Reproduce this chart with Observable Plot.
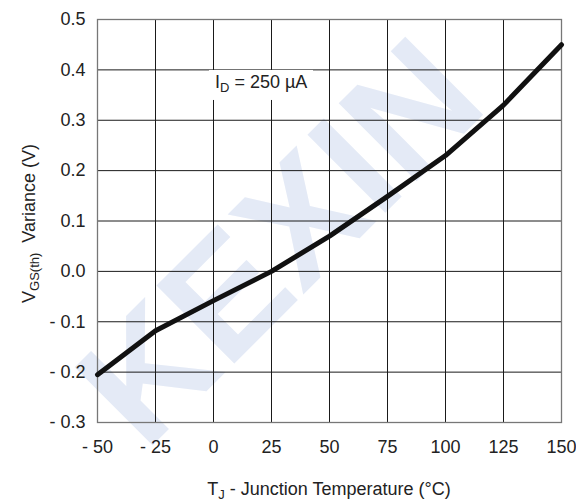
<!DOCTYPE html>
<html>
<head>
<meta charset="utf-8">
<script src="https://cdn.jsdelivr.net/npm/d3@7"></script>
<script src="https://cdn.jsdelivr.net/npm/@observablehq/plot@0.6"></script>
<style>
  body { margin: 0; background: #fff; }
  #chart svg { display: block; }
</style>
</head>
<body>
<div id="chart"></div>
<script>
// Junction temperature (°C) and threshold-voltage variance (V), I_D = 250 µA
const temperature = [-50, -25, 0, 25, 50, 75, 100, 125, 150];
const variance = [-0.205, -0.118, -0.058, 0.0, 0.07, 0.149, 0.23, 0.33, 0.45];

// Axis ticks
const xTicks = [-50, -25, 0, 25, 50, 75, 100, 125, 150];
const yTicks = [-0.3, -0.2, -0.1, 0.0, 0.1, 0.2, 0.3, 0.4, 0.5];

const font = "'Liberation Sans', Arial, Helvetica, sans-serif";
const fs = 18;
const fmtX = d => d < 0 ? "- " + Math.abs(d) : String(d);
const fmtY = d => d < 0 ? "- " + Math.abs(d).toFixed(1) : d.toFixed(1);

const rows = temperature.map((t, i) => ({t, v: variance[i]}));

const plot = Plot.plot({
  width: 576,
  height: 502,
  marginLeft: 97,
  marginRight: 15,
  marginTop: 19,
  marginBottom: 80,
  style: {fontFamily: font, fontSize: fs + "px", color: "#222", background: "transparent"},
  x: {domain: [-50, 150]},
  y: {domain: [-0.3, 0.5]},
  marks: [
    Plot.gridX(xTicks, {stroke: "#1a1a1a", strokeOpacity: 1, strokeWidth: 1}),
    Plot.gridY(yTicks, {stroke: "#1a1a1a", strokeOpacity: 1, strokeWidth: 1}),
    Plot.frame({stroke: "#777", strokeWidth: 1.3}),
    Plot.axisX(xTicks, {tickSize: 0, tickPadding: 18, tickFormat: fmtX, label: null, fontSize: fs}),
    Plot.axisY(yTicks, {tickSize: 0, tickPadding: 12, tickFormat: fmtY, label: null, fontSize: fs}),
    Plot.line(rows, {x: "t", y: "v", stroke: "#111", strokeWidth: 5, strokeLinejoin: "round"})
  ]
});

document.getElementById("chart").appendChild(plot);

const svg = d3.select(plot);
const sx = plot.scale("x"), sy = plot.scale("y");
const [x0, x1] = sx.range;
const [y0, y1] = sy.range;

// Faint watermark behind everything
const wm = svg.insert("g", ":first-child");
wm.append("text")
  .attr("transform", `translate(288,250) rotate(-45)`)
  .attr("text-anchor", "middle")
  .attr("dominant-baseline", "middle")
  .attr("font-family", font)
  .attr("font-weight", "bold")
  .attr("font-size", 160)
  .attr("fill", "#e4eaf6")
  .text("KEXIN");

// Current condition label with white backing
const lx = sx.apply(0), ly = sy.apply(0.375);
svg.append("rect")
  .attr("x", lx - 4).attr("y", ly - 12)
  .attr("width", 104).attr("height", 30)
  .attr("fill", "#fff");
const lab = svg.append("text")
  .attr("x", lx + 2).attr("y", ly + 6)
  .attr("text-anchor", "start")
  .attr("font-family", font).attr("font-size", fs).attr("fill", "#222");
lab.append("tspan").text("I");
lab.append("tspan").attr("font-size", 13).attr("dy", 4).text("D");
lab.append("tspan").attr("dy", -4).text(" = 250 µA");

// X axis title
const xt = svg.append("text")
  .attr("x", (x0 + x1) / 2).attr("y", 495)
  .attr("text-anchor", "middle")
  .attr("font-family", font).attr("font-size", fs).attr("fill", "#222");
xt.append("tspan").text("T");
xt.append("tspan").attr("font-size", 13).attr("dy", 4).text("J");
xt.append("tspan").attr("dy", -4).text(" - Junction Temperature (°C)");

// Y axis title
const yt = svg.append("text")
  .attr("transform", `translate(35,${(y0 + y1) / 2 + 3}) rotate(-90)`)
  .attr("text-anchor", "middle")
  .attr("font-family", font).attr("font-size", fs).attr("fill", "#222");
yt.append("tspan").text("V");
yt.append("tspan").attr("font-size", 13).attr("dy", 4).text("GS(th)");
yt.append("tspan").attr("dy", -4).attr("dx", 10).text("Variance (V)");
</script>
</body>
</html>
